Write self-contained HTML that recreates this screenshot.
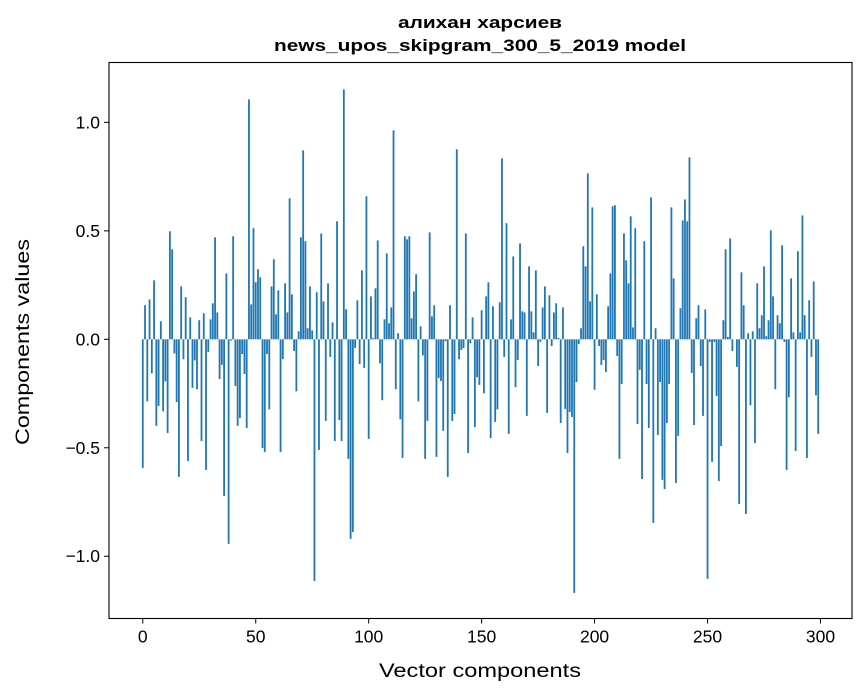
<!DOCTYPE html>
<html><head><meta charset="utf-8"><style>
body{margin:0;background:#fff;}
svg{display:block;font-family:"Liberation Sans","DejaVu Sans",sans-serif;}
</style></head><body>
<svg id="chart" width="867" height="696" viewBox="0 0 867 696" xmlns="http://www.w3.org/2000/svg">
<text x="480" y="28" text-anchor="middle" font-size="17" font-weight="bold" textLength="164" lengthAdjust="spacingAndGlyphs">алихан харсиев</text>
<text x="480" y="51" text-anchor="middle" font-size="17" font-weight="bold" textLength="412" lengthAdjust="spacingAndGlyphs">news_upos_skipgram_300_5_2019 model</text>
<g id="bars"></g>
<g id="axes"></g>
<rect x="109" y="62.5" width="743" height="556" fill="none" stroke="#000" stroke-width="1.1"/>
<text x="480" y="677" text-anchor="middle" font-size="19" textLength="202" lengthAdjust="spacingAndGlyphs">Vector components</text>
<text transform="translate(29,342) rotate(-90)" text-anchor="middle" font-size="19" textLength="206" lengthAdjust="spacingAndGlyphs">Components values</text>
</svg>
<script>
const values = [-0.593,0.157,-0.286,0.184,-0.157,0.272,-0.399,-0.307,0.083,-0.332,-0.194,-0.432,0.498,0.415,-0.065,-0.289,-0.634,0.244,-0.092,0.194,-0.561,0.101,-0.224,-0.097,-0.230,0.088,-0.469,0.120,-0.602,-0.058,0.092,0.166,0.470,0.124,-0.183,-0.118,-0.722,0.304,-0.943,-0.006,0.475,-0.215,-0.399,-0.363,-0.068,-0.160,-0.409,1.106,0.161,0.512,
0.263,0.323,0.286,-0.501,-0.519,-0.068,-0.323,0.244,0.369,0.115,0.226,-0.519,-0.091,0.258,0.124,0.650,0.207,-0.054,-0.240,0.037,0.470,0.871,0.452,0.051,0.244,0.041,-1.114,0.217,-0.510,0.488,0.175,-0.376,0.258,-0.081,0.078,-0.469,0.544,-0.372,-0.469,1.152,0.138,-0.551,-0.920,-0.888,-0.040,0.180,-0.114,0.318,-0.132,0.659,
-0.459,0.198,0.005,0.235,0.456,-0.111,-0.281,0.092,0.396,0.074,0.147,0.963,-0.230,0.028,-0.369,-0.547,0.475,0.461,0.475,0.097,0.221,0.300,-0.286,0.060,-0.074,-0.551,-0.376,0.493,0.106,0.157,-0.542,-0.178,-0.192,-0.422,-0.009,-0.634,0.157,-0.376,-0.344,0.876,-0.092,-0.049,-0.040,0.488,-0.524,-0.018,0.101,-0.404,-0.175,-0.210,
0.134,-0.249,0.198,0.263,-0.455,0.152,-0.381,-0.323,0.171,0.834,-0.081,0.535,-0.436,0.092,0.382,-0.221,-0.095,0.442,0.129,0.124,-0.353,0.336,0.129,0.032,0.318,-0.123,-0.012,0.147,0.244,-0.339,0.203,-0.031,0.124,0.166,0.006,-0.386,0.147,-0.321,-0.524,-0.335,-0.358,-1.169,-0.197,-0.022,0.051,0.429,0.336,0.765,0.175,0.608,
-0.233,0.207,-0.031,-0.118,-0.095,-0.151,0.152,0.304,0.613,0.618,-0.077,-0.551,-0.206,0.488,0.364,0.258,0.567,0.055,0.512,-0.390,-0.141,-0.644,0.452,-0.206,-0.409,0.654,-0.846,0.051,-0.441,-0.197,-0.648,-0.690,-0.386,-0.206,0.608,0.281,-0.662,-0.445,0.143,0.548,0.645,0.544,0.839,-0.155,-0.395,0.097,0.157,-0.123,-0.353,0.138,
-1.104,-0.012,-0.565,-0.012,-0.261,-0.653,-0.492,0.088,0.415,0.011,0.465,-0.054,0.0,-0.127,-0.759,0.309,0.157,-0.805,0.028,-0.304,0.037,-0.478,0.258,0.051,0.111,0.336,0.014,0.088,0.502,0.198,-0.230,0.111,0.074,0.433,-0.012,-0.602,-0.267,0.281,0.032,-0.515,0.406,0.032,0.571,0.111,-0.547,0.180,-0.081,0.267,-0.258,-0.436];
const xTicks = [0,50,100,150,200,250,300];
const yTicks = [-1.0,-0.5,0.0,0.5,1.0];
const yTickLabels = ["\u22121.0","\u22120.5","0.0","0.5","1.0"];

const L=109,R=852,T=62.5,B=618.5;
const xMin=-14.95,xMax=313.95,yMin=-1.287,yMax=1.276;
const sx=v=>L+(v-xMin)/(xMax-xMin)*(R-L);
const sy=v=>B-(v-yMin)/(yMax-yMin)*(B-T);
const NS="http://www.w3.org/2000/svg";
const bars=document.getElementById('bars');
const bw=(sx(0.8)-sx(0));
values.forEach((v,i)=>{
  const r=document.createElementNS(NS,'rect');
  
  
  const y0=sy(0),y1=sy(v);
  r.setAttribute('x',sx(i)-bw/2);
  r.setAttribute('width',bw);
  r.setAttribute('y',Math.min(y0,y1));
  r.setAttribute('height',Math.abs(y1-y0));
  r.setAttribute('fill','#1f77b4');
  bars.appendChild(r);
});
const axes=document.getElementById('axes');
xTicks.forEach(t=>{
  const l=document.createElementNS(NS,'line');
  
  
  l.setAttribute('x1',sx(t));l.setAttribute('x2',sx(t));
  l.setAttribute('y1',B);l.setAttribute('y2',B+5);
  l.setAttribute('stroke','#000');
  axes.appendChild(l);
  const tx=document.createElementNS(NS,'text');
  
  
  tx.setAttribute('x',sx(t));tx.setAttribute('y',B+24);
  tx.setAttribute('text-anchor','middle');tx.setAttribute('font-size','17.5');
  tx.textContent=t;
  axes.appendChild(tx);
});
yTicks.forEach((t,i)=>{
  const l=document.createElementNS(NS,'line');
  
  
  l.setAttribute('x1',L-5);l.setAttribute('x2',L);
  l.setAttribute('y1',sy(t));l.setAttribute('y2',sy(t));
  l.setAttribute('stroke','#000');
  axes.appendChild(l);
  const tx=document.createElementNS(NS,'text');
  
  
  tx.setAttribute('x',L-9);tx.setAttribute('y',sy(t)+6);
  tx.setAttribute('text-anchor','end');tx.setAttribute('font-size','17.5');
  tx.textContent=yTickLabels[i];
  axes.appendChild(tx);
});
</script>
</body></html>
